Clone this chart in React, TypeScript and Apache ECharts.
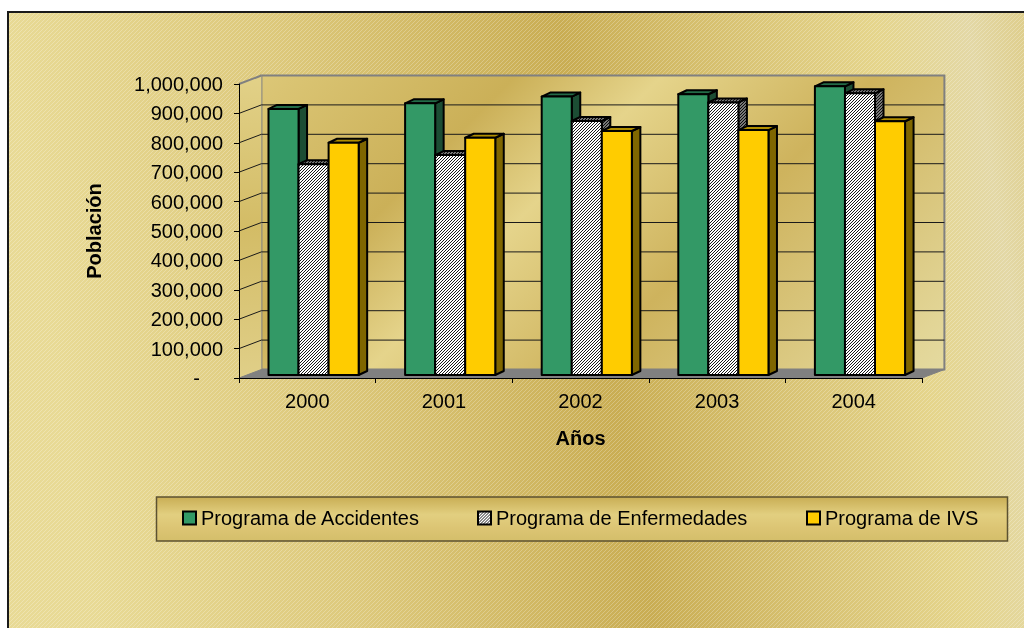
import React, { useEffect, useRef } from 'react';
import * as echarts from 'echarts';

const years = ['2000', '2001', '2002', '2003', '2004'];
const accidentes = [905000, 924000, 947000, 955000, 982000];
const enfermedades = [717000, 748000, 864000, 927000, 958000];
const ivs = [790000, 807000, 830000, 833000, 863000];
const seriesNames = ['Programa de Accidentes', 'Programa de Enfermedades', 'Programa de IVS'];
const yMax = 1000000;
const yStep = 100000;

const FONT = '"Liberation Sans", Arial, sans-serif';

function svgUrl(svg: string) {
  return 'data:image/svg+xml;charset=utf-8,' + encodeURIComponent(svg);
}
function hatch(bg: string, fg: string, w: number, op: number, n: number) {
  return {
    image: svgUrl(
      `<svg xmlns='http://www.w3.org/2000/svg' width='${n}' height='${n}'>` +
        (bg ? `<rect width='${n}' height='${n}' fill='${bg}'/>` : '') +
        `<path d='M-1,1 L1,-1 M0,${n} L${n},0 M${n - 1},${n + 1} L${n + 1},${n - 1}' stroke='${fg}' stroke-opacity='${op}' stroke-width='${w}'/></svg>`
    ),
    repeat: 'repeat',
    imageWidth: n,
    imageHeight: n,
  };
}

const hatchFront = hatch('#ffffff', '#000000', 0.9, 1, 3);
const hatchSide = hatch('#777777', '#000000', 0.9, 1, 3);
const bgHatch = hatch('', '#ffffff', 0.7, 0.35, 4);

const DX = 22.4;
const DY = -8.5;
const BDX = 8.5;
const BDY = -4;

function wallRenderer(params: any, api: any) {
  const bw = api.size([1, 0])[0];
  const xL = api.coord([0, 0])[0] - bw / 2;
  const xR = api.coord([years.length - 1, 0])[0] + bw / 2;
  const yB = api.coord([0, 0])[1];
  const yT = api.coord([0, yMax])[1];
  const wallGrad = new echarts.graphic.LinearGradient(
    xL + DX, yT + DY, xL + DX + 489, yT + DY + 489,
    [
      { offset: 0, color: '#DCC777' },
      { offset: 0.26, color: '#CBB058' },
      { offset: 0.41, color: '#E5D48B' },
      { offset: 0.63, color: '#CEB35D' },
      { offset: 0.94, color: '#E2D596' },
      { offset: 1, color: '#E4DAA0' },
    ],
    true
  );
  const sideGrad = new echarts.graphic.LinearGradient(
    0, 0, 0, 1,
    [
      { offset: 0, color: '#E2D188' },
      { offset: 0.5, color: '#D3BC66' },
      { offset: 1, color: '#E0CF88' },
    ]
  );
  const children: any[] = [
    {
      type: 'rect',
      shape: { x: xL + DX, y: yT + DY, width: xR - xL, height: yB - yT },
      style: { fill: wallGrad, stroke: '#808080', lineWidth: 2 },
    },
    {
      type: 'polygon',
      shape: { points: [[xL, yB], [xL, yT], [xL + DX, yT + DY], [xL + DX, yB + DY]] },
      style: { fill: sideGrad },
    },
    {
      type: 'polygon',
      shape: { points: [[xL, yB], [xR, yB], [xR + DX, yB + DY], [xL + DX, yB + DY]] },
      style: { fill: '#808080', stroke: '#808080', lineWidth: 1 },
    },
  ];
  for (let t = yStep; t < yMax; t += yStep) {
    const y = api.coord([0, t])[1];
    children.push({
      type: 'line',
      shape: { x1: xL + DX, y1: y + DY, x2: xR + DX, y2: y + DY },
      style: { stroke: '#1a1a1a', lineWidth: 1 },
    });
    children.push({
      type: 'line',
      shape: { x1: xL, y1: y, x2: xL + DX, y2: y + DY },
      style: { stroke: '#1a1a1a', lineWidth: 1 },
    });
  }
  children.push({
    type: 'line',
    shape: { x1: xL, y1: yT, x2: xL + DX, y2: yT + DY },
    style: { stroke: '#808080', lineWidth: 2 },
  });
  return { type: 'group', children };
}

function makeBarRenderer(s: number, front: any, side: any, top: any) {
  return (params: any, api: any) => {
    const i = api.value(0);
    const v = api.value(1);
    const bw = api.size([1, 0])[0];
    const base = api.coord([i, 0]);
    const tp = api.coord([i, v]);
    const w = bw * 0.22;
    const x = base[0] - bw / 2 + bw * 0.216 + s * w;
    const yB = base[1] - 3;
    const yT = tp[1] - 3;
    const stroke = { stroke: '#000', lineWidth: 2, lineJoin: 'round' };
    return {
      type: 'group',
      children: [
        {
          type: 'polygon',
          shape: { points: [[x + w, yT], [x + w + BDX, yT + BDY], [x + w + BDX, yB + BDY], [x + w, yB]] },
          style: { fill: side, ...stroke },
        },
        {
          type: 'polygon',
          shape: { points: [[x, yT], [x + BDX, yT + BDY], [x + w + BDX, yT + BDY], [x + w, yT]] },
          style: { fill: top, ...stroke },
        },
        {
          type: 'rect',
          shape: { x, y: yT, width: w, height: yB - yT },
          style: { fill: front, ...stroke },
        },
      ],
    };
  };
}

const barStyles = [
  { front: '#339966', side: '#1C4D34', top: '#236B47', values: accidentes },
  { front: hatchFront, side: hatchSide, top: hatchSide, values: enfermedades },
  { front: '#FFCC00', side: '#7F6600', top: '#B08E00', values: ivs },
];

const legendLefts = [182, 477, 806];

function fmt(v: number) {
  if (v === 0) return '{z|-}';
  return v.toLocaleString('en-US');
}

export default function App() {
  const ref = useRef<HTMLDivElement>(null);
  useEffect(() => {
    const chart = echarts.init(ref.current!, null, { renderer: 'svg' });
    const bgGrad = new echarts.graphic.LinearGradient(
      0, 0, 1024, -159,
      [
        { offset: 0, color: '#E8DA95' },
        { offset: 0.25, color: '#DDC97C' },
        { offset: 0.53, color: '#C9AD53' },
        { offset: 0.7, color: '#D9C475' },
        { offset: 0.83, color: '#E5D58C' },
        { offset: 0.92, color: '#E3D8A6' },
        { offset: 1, color: '#DCC980' },
      ],
      true
    );
    const legendGrad = new echarts.graphic.LinearGradient(0, 0, 0, 1, [
      { offset: 0, color: '#C9AE55' },
      { offset: 0.4, color: '#E2CF80' },
      { offset: 0.7, color: '#DCC574' },
      { offset: 1, color: '#D4BE6A' },
    ]);
    const option: any = {
      animation: false,
      textStyle: { fontFamily: FONT },
      grid: { left: 239, right: 102, top: 84, bottom: 250, containLabel: false },
      graphic: [
        {
          type: 'rect', z: 0, z2: 0, silent: true,
          shape: { x: 8, y: 12, width: 1100, height: 700 },
          style: { fill: bgGrad, stroke: '#1a1a1a', lineWidth: 2 },
        },
        {
          type: 'rect', z: 0, z2: 1, silent: true,
          shape: { x: 9, y: 13, width: 1100, height: 700 },
          style: { fill: bgHatch },
        },
        {
          type: 'rect', z: 0, z2: 2, silent: true,
          shape: { x: 156.5, y: 497, width: 851, height: 44 },
          style: { fill: legendGrad, stroke: '#5c5231', lineWidth: 1.5 },
        },
      ],
      xAxis: {
        type: 'category',
        data: years,
        z: 5,
        boundaryGap: true,
        axisLine: { show: true, lineStyle: { color: '#000', width: 1 } },
        axisTick: { show: true, length: 5, lineStyle: { color: '#000' }, alignWithLabel: false },
        axisLabel: { color: '#000', fontSize: 20, fontFamily: FONT, margin: 13 },
        splitLine: { show: false },
        name: 'Años',
        nameLocation: 'middle',
        nameGap: 50,
        nameTextStyle: { color: '#000', fontSize: 20, fontWeight: 'bold', fontFamily: FONT },
      },
      yAxis: {
        type: 'value',
        min: 0,
        max: yMax,
        interval: yStep,
        z: 5,
        axisLine: { show: true, lineStyle: { color: '#000', width: 1 } },
        axisTick: { show: true, length: 5, lineStyle: { color: '#000' } },
        axisLabel: {
          color: '#000',
          fontSize: 20,
          fontFamily: FONT,
          margin: 16,
          formatter: fmt,
          rich: { z: { fontSize: 20, fontFamily: FONT, color: '#000', padding: [0, 23, 0, 0] } },
        },
        splitLine: { show: false },
        name: 'Población',
        nameLocation: 'middle',
        nameGap: 135,
        nameTextStyle: { color: '#000', fontSize: 20, fontWeight: 'bold', fontFamily: FONT },
      },
      legend: seriesNames.map((n, i) => ({
        data: [
          {
            name: n,
            itemStyle: {
              color: i === 1 ? hatchFront : (barStyles[i].front as string),
              borderColor: '#000',
              borderWidth: 2,
            },
          },
        ],
        left: legendLefts[i],
        top: 508,
        padding: 0,
        icon: 'rect',
        itemWidth: 13,
        itemHeight: 13,
        selectedMode: false,
        textStyle: { color: '#000', fontSize: 20, fontFamily: FONT },
      })),
      series: [
        {
          type: 'custom',
          name: '_walls',
          data: [[0, 0]],
          encode: { x: 0, y: 1 },
          renderItem: wallRenderer,
          z: 1,
          silent: true,
        },
        ...barStyles.map((b, s) => ({
          type: 'custom',
          name: seriesNames[s],
          data: years.map((_, i) => [i, b.values[i]]),
          encode: { x: 0, y: 1 },
          renderItem: makeBarRenderer(s, b.front, b.side, b.top),
          itemStyle: { color: s === 1 ? '#ffffff' : (b.front as string) },
          z: 2,
          silent: true,
        })),
      ],
    };
    chart.setOption(option);
    return () => chart.dispose();
  }, []);
  return (
    <div
      ref={ref}
      style={{ position: 'fixed', left: 0, top: 0, width: 1024, height: 628 }}
    />
  );
}
